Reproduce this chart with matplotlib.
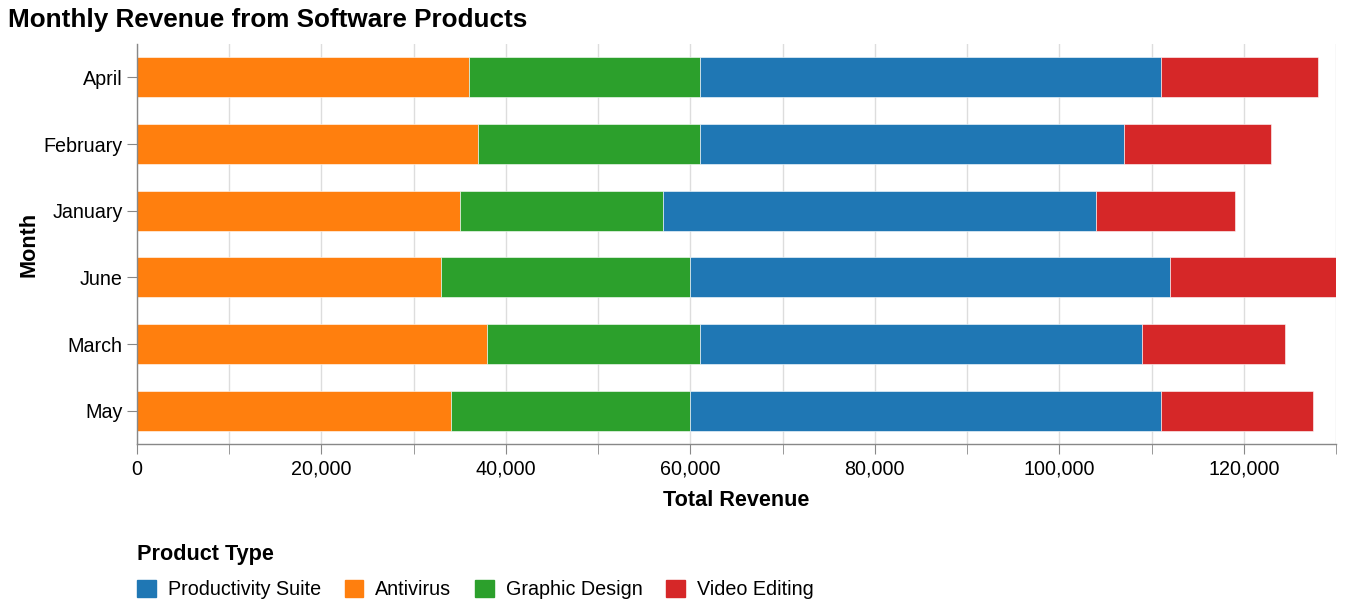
import matplotlib
matplotlib.use('Agg')
import matplotlib.pyplot as plt
import matplotlib.patches as mpatches
from matplotlib.ticker import MultipleLocator, FuncFormatter
import numpy as np

plt.rcParams['font.family'] = ['Liberation Sans', 'DejaVu Sans']

# data (months in alphabetical order, top to bottom)
months = ['April', 'February', 'January', 'June', 'March', 'May']
antivirus = [36000, 37000, 35000, 33000, 38000, 34000]
graphic_design = [25000, 24000, 22000, 27000, 23000, 26000]
productivity = [50000, 46000, 47000, 52000, 48000, 51000]
video_editing = [17000, 16000, 15000, 18000, 15500, 16500]

series = [('Antivirus', antivirus, '#ff7f0e'),
          ('Graphic Design', graphic_design, '#2ca02c'),
          ('Productivity Suite', productivity, '#1f77b4'),
          ('Video Editing', video_editing, '#d62728')]

fig = plt.figure(figsize=(13.48, 6.08), dpi=100)
ax = fig.add_axes([137 / 1348, 1 - 444 / 608, (1336 - 137) / 1348, 400 / 608])

y = np.arange(len(months))
left = np.zeros(len(months))
for name, vals, color in series:
    ax.barh(y, vals, left=left, height=0.6, color=color, edgecolor='white',
            linewidth=0.4, zorder=2)
    left += np.array(vals)

ax.set_xlim(0, 130000)
ax.set_ylim(len(months) - 0.5, -0.5)
ax.set_yticks(y)
ax.set_yticklabels(months, fontsize=14.2)

ax.xaxis.set_major_locator(MultipleLocator(20000))
ax.xaxis.set_minor_locator(MultipleLocator(10000))
ax.xaxis.set_major_formatter(FuncFormatter(lambda v, p: f'{int(v):,}'))
ax.tick_params(axis='x', which='both', length=7.2, color='#888888', labelsize=14.2, pad=4)
ax.tick_params(axis='y', length=7.2, color='#888888', pad=3)
ax.grid(axis='x', which='both', color='#dddddd', linewidth=1, zorder=0)
ax.set_axisbelow(True)

for s in ['top', 'right']:
    ax.spines[s].set_visible(False)
for s in ['left', 'bottom']:
    ax.spines[s].set_color('#888888')
    ax.spines[s].set_linewidth(1)

ax.set_xlabel('Total Revenue', fontsize=15.6, fontweight='bold', labelpad=8)
ax.set_ylabel('Month', fontsize=15.6, fontweight='bold', labelpad=3)

fig.text(8 / 1348, 1 - 20 / 608, 'Monthly Revenue from Software Products',
         fontsize=18.8, fontweight='bold', va='center', ha='left')

# legend
legend_order = ['Productivity Suite', 'Antivirus', 'Graphic Design', 'Video Editing']
colors = {name: c for name, _, c in series}
handles = [mpatches.Patch(color=colors[n], label=n) for n in legend_order]
leg = fig.legend(handles=handles, title='Product Type', loc='upper left',
                 bbox_to_anchor=(137 / 1348, 1 - 544 / 608), ncol=4, frameon=False,
                 fontsize=14.2, title_fontproperties={'weight': 'bold', 'size': 15.6},
                 handlelength=0.96, handleheight=0.96, handletextpad=0.6,
                 columnspacing=1.2, alignment='left', borderpad=0, borderaxespad=0,
                 labelspacing=0.75)

fig.savefig('out.png', dpi=100)
